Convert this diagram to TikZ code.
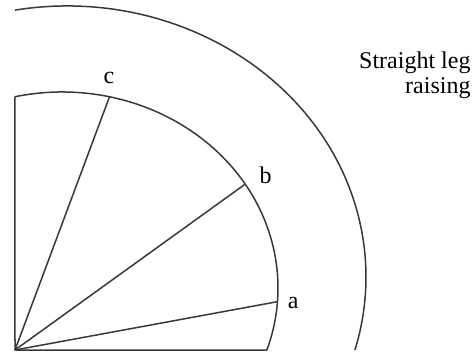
\documentclass[tikz,border=0pt]{standalone}
\usepackage{fontspec}
\setmainfont{Liberation Serif}
\begin{document}
\begin{tikzpicture}[x=1pt,y=1pt,
  ln/.style={draw=black!78, line width=1.5pt, line join=round},
  lbl/.style={font=\fontsize{24}{25}\selectfont, text=black, inner sep=0pt, anchor=base}]
\useasboundingbox (0,0) rectangle (476,353);
% centres of the two arcs
\coordinate (ci) at (62,65);
\coordinate (co) at (67,76);
% key points on the inner arc
\coordinate (O) at (15,3);
\coordinate (T) at ([shift={(ci)}]102.57:216pt and 196pt);
\coordinate (C) at ([shift={(ci)}]77.3:216pt and 196pt);
\coordinate (B) at ([shift={(ci)}]32:216pt and 196pt);
\coordinate (A) at ([shift={(ci)}]-4:216pt and 196pt);
\coordinate (E) at ([shift={(ci)}]-18.45:216pt and 196pt);
% outer arc
\draw[ln] ([shift={(co)}]100:299pt and 271pt)
  arc[start angle=100, end angle=-15.63, x radius=299pt, y radius=271pt];
% inner arc
\draw[ln] (T) arc[start angle=102.57, end angle=-18.45, x radius=216pt, y radius=196pt];
% frame and spokes
\draw[ln] (T) -- (O) -- (E);
\draw[ln] (O) -- (A);
\draw[ln] (O) -- (B);
\draw[ln] (O) -- (C);
% labels
\node[lbl] (la) at (293.3,44.7) {a};
\node[lbl] (lb) at (265.7,169.7) {b};
\node[lbl] (lc) at (109,269.7) {c};
\node[lbl, anchor=base east] (t1) at (470.7,284.7) {Straight leg};
\node[lbl, anchor=base east] (t2) at (470.7,259.7) {raising};
\end{tikzpicture}
\end{document}
